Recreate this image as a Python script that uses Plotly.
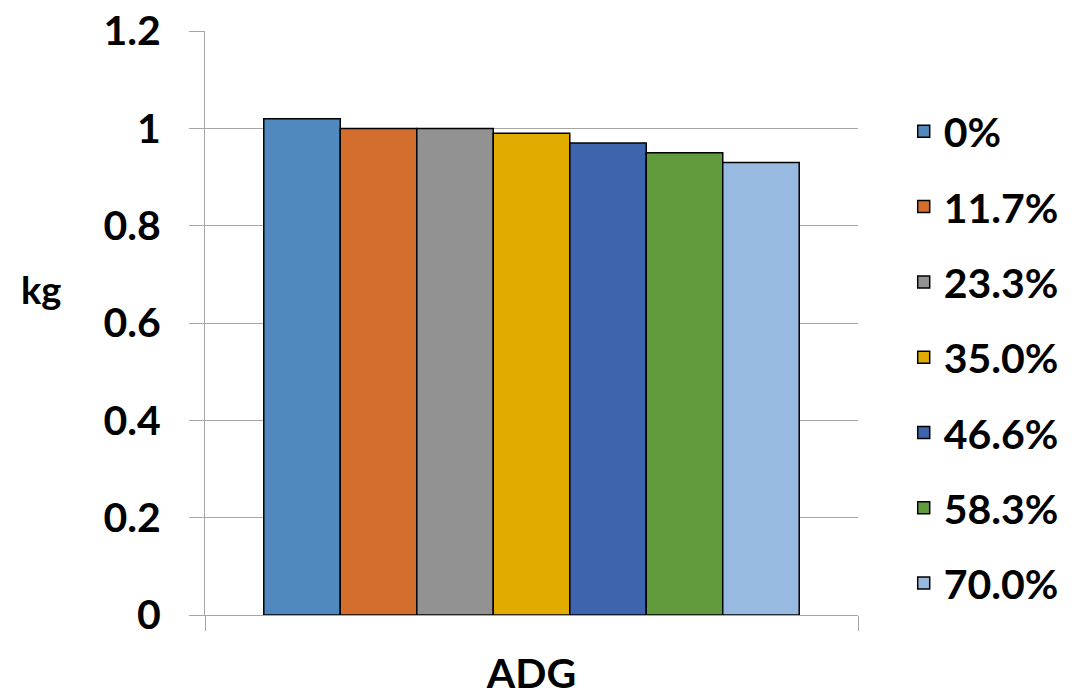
import plotly.graph_objects as go

categories = ["ADG"]
series_names = ["0%", "11.7%", "23.3%", "35.0%", "46.6%", "58.3%", "70.0%"]
series_values = [1.02, 1.00, 1.00, 0.99, 0.97, 0.95, 0.93]
colors = ["#4F89BD", "#D36E2C", "#929292", "#E2AB00", "#3D64AD", "#629A3E", "#98B9E0"]
y_ticks = [0, 0.2, 0.4, 0.6, 0.8, 1.0, 1.2]

FONT = "Lato"
# page body has an 8px margin; figure is sized/placed to compensate
W, H = 1068, 685
L, R, T, B = 197, 214, 23, 78
plot_w = W - L - R
plot_h = H - T - B

fig = go.Figure()
for name, val, col in zip(series_names, series_values, colors):
    fig.add_trace(go.Bar(
        x=categories, y=[val], name=name, legendgroup=name,
        marker=dict(color=col, line=dict(color="black", width=1.5)),
    ))

tickfont = dict(family=FONT, size=41, color="black", weight="bold")
fig.update_layout(
    width=W, height=H,
    margin=dict(l=L, r=R, t=T, b=B),
    paper_bgcolor="white", plot_bgcolor="white",
    barmode="group", bargap=0.18, bargroupgap=0,
    font=dict(family=FONT, size=41, color="black", weight="bold"),
    showlegend=True,
    legend=dict(x=1.07, xanchor="left", y=0.885, yanchor="top",
                font=tickfont, tracegroupgap=19, traceorder="grouped"),
    xaxis=dict(showline=True, linecolor="#a6a6a6", linewidth=1,
               ticks="outside", tickson="boundaries", ticklen=15, tickcolor="#a6a6a6",
               ticklabelstandoff=23, automargin=False, tickfont=tickfont),
    yaxis=dict(range=[0, 1.2002], tickvals=y_ticks, showgrid=True, gridcolor="#a6a6a6", gridwidth=1,
               showline=True, linecolor="#a6a6a6", linewidth=1, zeroline=False,
               ticks="outside", ticklen=15, tickcolor="#a6a6a6", ticklabelstandoff=20,
               ticklabeloverflow="allow", automargin=False, tickfont=tickfont),
    annotations=[dict(text="kg", x=(32 - L) / plot_w, y=(607 - 281) / plot_h,
                      xref="paper", yref="paper", xanchor="center", yanchor="middle",
                      showarrow=False,
                      font=dict(family=FONT, size=38, color="black", weight="bold"))],
)
fig.write_html("out.html")
